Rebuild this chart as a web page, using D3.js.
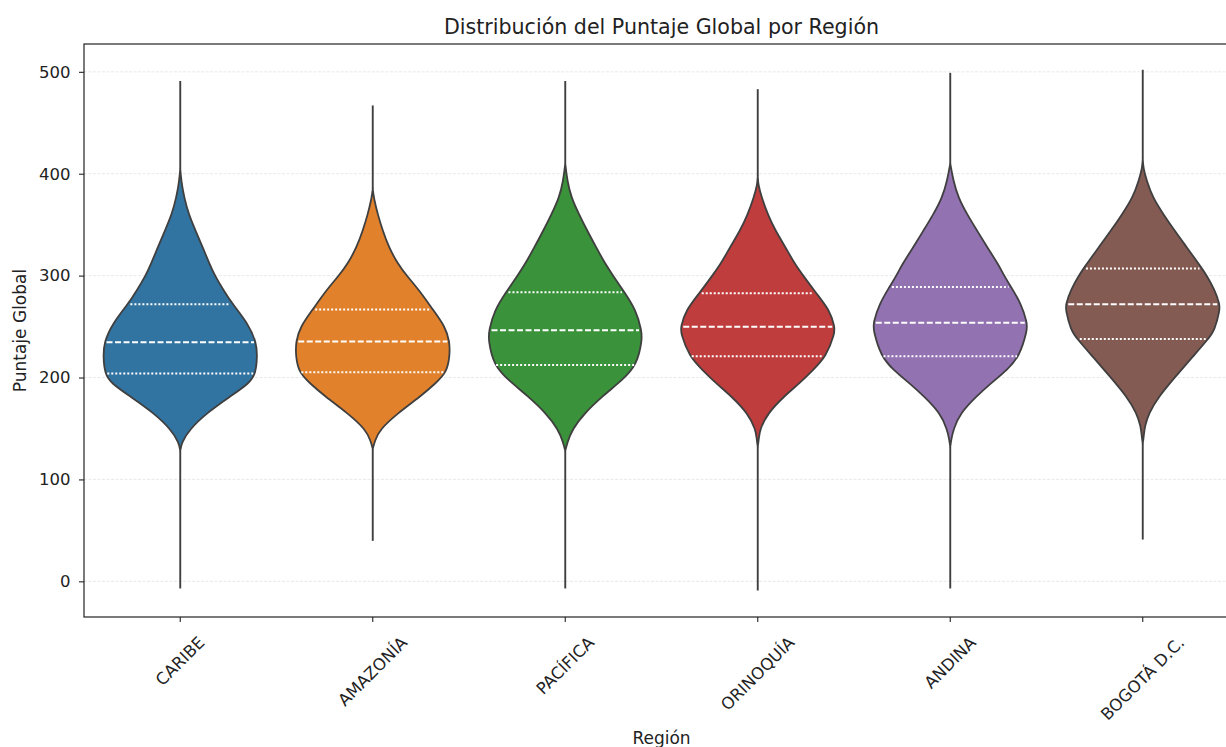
<!DOCTYPE html>
<html>
<head>
<meta charset="utf-8">
<script src="https://cdn.jsdelivr.net/npm/d3@7"></script>
<style>
  html, body { margin: 0; padding: 0; background: #fff; }
  svg { display: block; font-family: "DejaVu Sans", sans-serif; }
</style>
</head>
<body>
<svg id="chart" width="1226" height="747"></svg>
<script>
// Regions shown on the x axis, in plotting order
const regions = ["CARIBE", "AMAZONÍA", "PACÍFICA", "ORINOQUÍA", "ANDINA", "BOGOTÁ D.C."];
const palette = ["#3274a1", "#e1812c", "#3a923a", "#c03d3e", "#9372b2", "#845b53"];

// Quartiles of the global score per region
const q1Scores     = [204.0, 205.2, 212.4, 220.8, 220.8, 237.7];
const medianScores = [234.5, 235.4, 246.5, 249.8, 253.7, 271.9];
const q3Scores     = [271.9, 266.7, 283.6, 282.6, 288.8, 307.0];

// Kernel density profiles: [score, relative half-width] (1 = widest violin).
// First and last entries are the extreme scores reached by the thin tails.
const caribeDensity = [[491,0],[405,0],[393,0.013],[377,0.05],[360,0.11],[344,0.2],[328,0.29],[311.5,0.38],[300,0.45],[286,0.56],[271.9,0.68],[253,0.88],[234.5,0.99],[220.5,1.0],[204,0.98],[194.5,0.90],[181.5,0.65],[165,0.34],[149,0.12],[136,0.017],[128,0],[-7,0]];
const amazoniaDensity = [[467,0],[385,0],[376.6,0.013],[360,0.065],[344,0.13],[328,0.208],[311.5,0.325],[300,0.44],[286,0.60],[266.7,0.78],[250,0.94],[235.4,1.0],[220.5,1.0],[205.2,0.96],[194.5,0.82],[181.5,0.62],[165,0.325],[149,0.09],[137.5,0.026],[130,0],[39.7,0]];
const pacificaDensity = [[491,0],[410,0],[393,0.026],[376.6,0.078],[360,0.18],[344,0.286],[328,0.40],[311.5,0.52],[300,0.62],[283.6,0.77],[266,0.92],[246.5,0.99],[237,1.0],[212.4,0.93],[198,0.75],[181.5,0.48],[165,0.25],[149,0.09],[136,0.026],[128,0],[-7,0]];
const orinoquiaDensity = [[483,0],[398,0],[389,0.006],[376.6,0.052],[360,0.13],[344,0.23],[328,0.36],[311.5,0.48],[300,0.59],[282.6,0.76],[266,0.935],[249.8,1.0],[243.3,1.0],[220.8,0.89],[207.5,0.72],[194.5,0.545],[181.5,0.34],[165,0.13],[149,0.026],[139,0.013],[132,0],[-9,0]];
const andinaDensity = [[499,0],[410,0],[393,0.04],[376.6,0.104],[360,0.22],[344,0.35],[328,0.48],[311.5,0.62],[300,0.70],[288.8,0.79],[272.5,0.92],[253.7,1.0],[246.5,1.0],[220.8,0.90],[207.5,0.74],[194.5,0.53],[181.5,0.34],[165,0.13],[149,0.04],[139,0.013],[132,0],[-7,0]];
const bogotaDensity = [[502,0],[415,0],[406,0.006],[393,0.052],[376.6,0.13],[360,0.27],[344,0.415],[328,0.57],[307,0.77],[300,0.83],[286,0.935],[271.9,1.0],[266,1.0],[246.5,0.935],[237.7,0.85],[220.5,0.65],[200,0.415],[181.5,0.21],[165,0.078],[152,0.026],[142.5,0.013],[135,0],[41,0]];
const densities = [caribeDensity, amazoniaDensity, pacificaDensity, orinoquiaDensity, andinaDensity, bogotaDensity];

const yTicks = [0, 100, 200, 300, 400, 500];

const margin = { left: 84, top: 44, right: 1239, bottom: 617 };
const svg = d3.select("#chart");
const ink = "#222";
const edge = "#3f3f3f";

const x = d3.scaleBand().domain(regions).range([margin.left, margin.right]).paddingInner(0).paddingOuter(0);
const y = d3.scaleLinear().domain([-35.0, 527.3]).range([margin.bottom, margin.top]);
const halfWidth = d3.scaleLinear().domain([0, 1]).range([0, x.bandwidth() * 0.4]);

// Horizontal grid
svg.append("g")
  .selectAll("line")
  .data(yTicks)
  .join("line")
  .attr("x1", margin.left).attr("x2", margin.right)
  .attr("y1", d => y(d)).attr("y2", d => y(d))
  .attr("stroke", "#b0b0b0").attr("stroke-opacity", 0.35)
  .attr("stroke-width", 0.8).attr("stroke-dasharray", "3,1.5");

// Width of a violin at a given score (linear between profile samples)
function widthAt(profile, v) {
  for (let i = 0; i < profile.length - 1; i++) {
    const a = profile[i], b = profile[i + 1];
    if (v <= a[0] && v >= b[0]) {
      const t = (a[0] - v) / (a[0] - b[0]);
      return a[1] + t * (b[1] - a[1]);
    }
  }
  return 0;
}

const violins = svg.append("g");
regions.forEach((r, i) => {
  const cx = x(r) + x.bandwidth() / 2;
  const profile = densities[i];
  const n = profile.length;
  const body = profile.slice(1, n - 1);

  // thin tails out to the extreme scores
  const tail = d3.line().x(() => cx).y(d => y(d[0]));
  [[profile[0], profile[1]], [profile[n - 2], profile[n - 1]]].forEach(seg => {
    violins.append("path")
      .attr("d", tail(seg))
      .attr("stroke", edge).attr("stroke-width", 1.9).attr("fill", "none");
  });

  const area = d3.area()
    .y(d => y(d[0]))
    .x0(d => cx - halfWidth(d[1]))
    .x1(d => cx + halfWidth(d[1]))
    .curve(d3.curveBasis);
  violins.append("path")
    .attr("d", area(body))
    .attr("fill", palette[i])
    .attr("stroke", edge)
    .attr("stroke-width", 1.8)
    .attr("stroke-linejoin", "round");

  const quarts = [
    { v: q1Scores[i], dash: "2,2" },
    { v: medianScores[i], dash: "6,2.5" },
    { v: q3Scores[i], dash: "2,2" }
  ];
  quarts.forEach(q => {
    const w = halfWidth(widthAt(profile, q.v)) - 2.5;
    violins.append("line")
      .attr("x1", cx - w).attr("x2", cx + w)
      .attr("y1", y(q.v)).attr("y2", y(q.v))
      .attr("stroke", "#fff").attr("stroke-width", 2)
      .attr("stroke-dasharray", q.dash);
  });
});

// Frame
svg.append("rect")
  .attr("x", margin.left).attr("y", margin.top)
  .attr("width", margin.right - margin.left).attr("height", margin.bottom - margin.top)
  .attr("fill", "none").attr("stroke", ink).attr("stroke-width", 1.2);

// Y axis
const yAxis = svg.append("g")
  .attr("transform", `translate(${margin.left},0)`)
  .call(d3.axisLeft(y).tickValues(yTicks).tickSize(5).tickPadding(8.5));
yAxis.select(".domain").remove();
yAxis.selectAll(".tick line").attr("stroke", ink).attr("stroke-width", 1.1);
yAxis.selectAll(".tick text").attr("fill", ink).style("font-size", "16.5px").style("font-family", "DejaVu Sans");

// X axis with labels turned 45 degrees, centred under their ticks
const xAxis = svg.append("g")
  .attr("transform", `translate(0,${margin.bottom})`)
  .call(d3.axisBottom(x).tickSize(5).tickPadding(0));
xAxis.select(".domain").remove();
xAxis.selectAll(".tick line").attr("stroke", ink).attr("stroke-width", 1.1);
const fs = 16.5;
xAxis.selectAll(".tick text")
  .attr("fill", ink)
  .style("font-size", fs + "px").style("font-family", "DejaVu Sans")
  .attr("text-anchor", "middle")
  .attr("dy", null)
  .attr("dominant-baseline", "central")
  .each(function () {
    const L = this.getComputedTextLength();
    const cy = 16 + (L + fs * 1.164) * Math.SQRT1_2 / 2;
    d3.select(this).attr("y", 0).attr("transform", `translate(0,${cy}) rotate(-45)`);
  });

// Titles
svg.append("text")
  .attr("x", (margin.left + margin.right) / 2).attr("y", 34)
  .attr("text-anchor", "middle").attr("fill", ink)
  .style("font-size", "20.6px")
  .text("Distribución del Puntaje Global por Región");

svg.append("text")
  .attr("x", (margin.left + margin.right) / 2).attr("y", 744)
  .attr("text-anchor", "middle").attr("fill", ink)
  .style("font-size", "17px")
  .text("Región");

svg.append("text")
  .attr("transform", `translate(26,${(margin.top + margin.bottom) / 2}) rotate(-90)`)
  .attr("text-anchor", "middle").attr("fill", ink)
  .style("font-size", "17px")
  .text("Puntaje Global");
</script>
</body>
</html>
